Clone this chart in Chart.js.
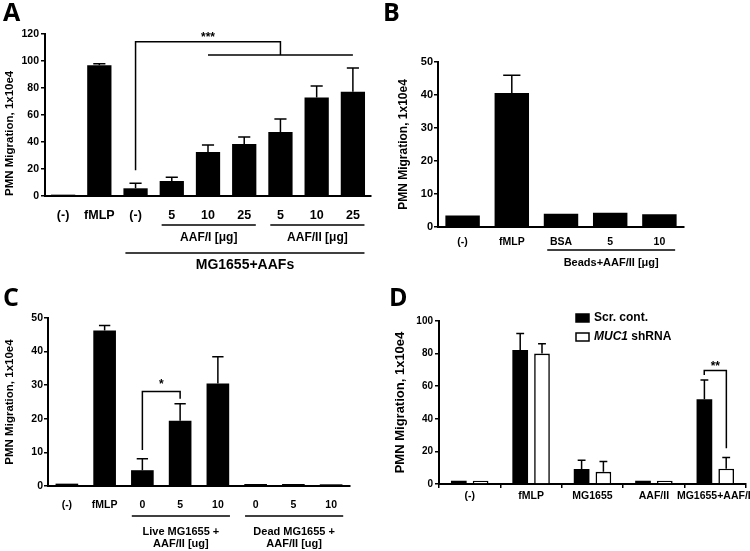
<!DOCTYPE html>
<html>
<head>
<meta charset="utf-8">
<script src="https://cdn.jsdelivr.net/npm/chart.js@4.4.1/dist/chart.umd.min.js"></script>
<style>
  body { margin: 0; background: #fff; width: 750px; height: 551px; overflow: hidden; position: relative; }
  canvas { position: absolute; }
  .letter { position: absolute; font: bold 25px "Open Sans", "Liberation Sans", sans-serif; line-height: 1; color: #000; }
</style>
</head>
<body>
<canvas id="chartA" width="380" height="275" style="left:0;top:0"></canvas>
<canvas id="chartB" width="370" height="275" style="left:380px;top:0"></canvas>
<canvas id="chartC" width="380" height="276" style="left:0;top:275px"></canvas>
<canvas id="chartD" width="370" height="276" style="left:380px;top:275px"></canvas>
<div class="letter" style="left:3px;top:-1px">A</div>
<div class="letter" style="left:383px;top:-1px">B</div>
<div class="letter" style="left:3px;top:284px">C</div>
<div class="letter" style="left:389px;top:284px">D</div>
<script>
const FONT = '"Liberation Sans", Arial, Helvetica, sans-serif';
const yTitle = "PMN Migration, 1x10e4";

// panel A
const aLabels = ["(-)", "fMLP", "(-)", "5", "10", "25", "5", "10", "25"];
const aMeans = [1.0, 96.8, 5.7, 11.1, 32.6, 38.5, 47.4, 73.0, 77.3];
const aSem = [0, 1.2, 3.7, 2.7, 5.2, 5.2, 9.6, 8.5, 17.5];
const aTicks = [0, 20, 40, 60, 80, 100, 120];
const aGroups = [["AAF/I [μg]", 3, 5, 0], ["AAF/II [μg]", 6, 8, 0], ["MG1655+AAFs", 2, 8, 1]];
const aBrackets = [[[2, 19], [2, 114.3], [6, 114.3], [6, 104.4]], [[4, 104.4], [8, 104.4]]];
const aStars = [["***", 4, 115.5]];

// panel B
const bLabels = ["(-)", "fMLP", "BSA", "5", "10"];
const bMeans = [3.5, 40.6, 4.0, 4.3, 3.9];
const bSem = [0, 5.4, 0, 0, 0];
const bTicks = [0, 10, 20, 30, 40, 50];
const bGroups = [["Beads+AAF/II [μg]", 2, 4, 0]];

// panel C
const cLabels = ["(-)", "fMLP", "0", "5", "10", "0", "5", "10"];
const cMeans = [0.7, 46.3, 4.7, 19.4, 30.5, 0.6, 0.6, 0.5];
const cSem = [0, 1.5, 3.4, 5.1, 8.0, 0, 0, 0];
const cTicks = [0, 10, 20, 30, 40, 50];
const cGroups = [["Live MG1655 +\nAAF/II [ug]", 2, 4, 0], ["Dead MG1655 +\nAAF/II [ug]", 5, 7, 0]];
const cBrackets = [[[2, 10.7], [2, 28.1], [3, 28.1], [3, 26]]];
const cStars = [["*", 2.5, 29.5]];

// panel D
const dLabels = ["(-)", "fMLP", "MG1655", "AAF/II", "MG1655+AAF/II"];
const dScr = [2.0, 82.2, 9.2, 2.0, 52.0];
const dScrSem = [0, 10.1, 5.3, 0, 11.8];
const dMuc = [2.0, 80.0, 7.5, 2.0, 9.4];
const dMucSem = [0, 6.0, 6.3, 0, 6.9];
const dTicks = [0, 20, 40, 60, 80, 100];
const dBrackets = [[[3.82, 66.8], [3.82, 69.6], [4.18, 69.6], [4.18, 22]]];
const dStars = [["**", 4, 71]];

makePanel("chartA", {
  labels: aLabels, yTicks: aTicks,
  series: [{ data: aMeans, sem: aSem, fill: "#000" }],
  groups: aGroups, brackets: aBrackets, stars: aStars,
  pad: { left: 0, top: 34, right: 9 }, yw: 45, xh: 79,
  barPct: 0.67, catPct: 1,
  titleSize: 11.5, titleAlign: "start", titlePad: 3,
  yTickSize: 10.5, yTickPad: 2, xTickSize: 12.5, xTickPad: 12, xTickLen: 0,
  groupLine: [29, 57], groupText: [42, 69], groupSize: [12, 14], groupLH: 12
});

makePanel("chartB", {
  labels: bLabels, yTicks: bTicks,
  series: [{ data: bMeans, sem: bSem, fill: "#000" }],
  groups: bGroups, brackets: [], stars: [],
  pad: { left: 12, top: 62, right: 66 }, yw: 46, xh: 48,
  barPct: 0.7, catPct: 1,
  titleSize: 12, titleAlign: "center", titlePad: 4,
  yTickSize: 11, yTickPad: 1, xTickSize: 10.5, xTickPad: 9, xTickLen: 0,
  groupLine: [23], groupText: [36], groupSize: [11], groupLH: 12
});

makePanel("chartC", {
  labels: cLabels, yTicks: cTicks,
  series: [{ data: cMeans, sem: cSem, fill: "#000" }],
  groups: cGroups, brackets: cBrackets, stars: cStars,
  pad: { left: 0, top: 43, right: 30 }, yw: 48, xh: 65,
  barPct: 0.6, catPct: 1,
  titleSize: 11.5, titleAlign: "center", titlePad: 3,
  yTickSize: 10.5, yTickPad: 1, xTickSize: 10.5, xTickPad: 13, xTickLen: 0,
  groupLine: [30], groupText: [46], groupSize: [11], groupLH: 11.5
});

makePanel("chartD", {
  labels: dLabels, yTicks: dTicks,
  series: [
    { data: dScr, sem: dScrSem, fill: "#000" },
    { data: dMuc, sem: dMucSem, fill: "#fff" }
  ],
  groups: [], brackets: dBrackets, stars: dStars,
  pad: { left: 9, top: 46, right: 4 }, yw: 50, xh: 67,
  barPct: 0.72, catPct: 0.71,
  titleSize: 13, titleAlign: "center", titlePad: 4,
  yTickSize: 10, yTickPad: 2, xTickSize: 10.5, xTickPad: 2, xTickLen: 4,
  legend: [
    { fill: "#000", y: 43, parts: [["Scr. cont.", false]] },
    { fill: "#fff", y: 62, parts: [["MUC1", true], [" shRNA", false]] }
  ],
  legendX: 196
});

function makePanel(id, p) {
  const datasets = p.series.map((s) => ({
    data: s.data,
    backgroundColor: s.fill,
    borderColor: "#000",
    borderWidth: s.fill === "#fff" ? 1.6 : 0,
    barPercentage: p.barPct,
    categoryPercentage: p.catPct
  }));

  new Chart(document.getElementById(id), {
    type: "bar",
    data: { labels: p.labels, datasets: datasets },
    options: {
      responsive: false,
      animation: false,
      events: [],
      layout: { padding: { left: p.pad.left, top: p.pad.top, right: p.pad.right, bottom: 0 } },
      plugins: { legend: { display: false }, tooltip: { enabled: false } },
      scales: {
        x: {
          border: { display: true, color: "#000", width: 2 },
          grid: { display: p.xTickLen > 0, drawOnChartArea: false, drawTicks: p.xTickLen > 0, tickLength: p.xTickLen, color: "#000", lineWidth: 1.5 },
          ticks: { color: "#000", padding: p.xTickPad, maxRotation: 0, autoSkip: false, font: { family: FONT, size: p.xTickSize, weight: "bold" } },
          afterFit(scale) { scale.height = p.xh; scale.paddingLeft = 0; scale.paddingRight = 0; }
        },
        y: {
          min: p.yTicks[0],
          max: p.yTicks[p.yTicks.length - 1],
          border: { display: true, color: "#000", width: 2 },
          grid: { display: true, drawOnChartArea: false, drawTicks: true, tickLength: 4, color: "#000", lineWidth: 1.5 },
          ticks: { color: "#000", padding: p.yTickPad, font: { family: FONT, size: p.yTickSize, weight: "bold" } },
          afterBuildTicks(scale) { scale.ticks = p.yTicks.map((v) => ({ value: v })); },
          title: {
            display: true, text: yTitle, color: "#000", align: p.titleAlign,
            padding: { top: p.titlePad, bottom: 0 },
            font: { family: FONT, size: p.titleSize, weight: "bold" }
          },
          afterFit(scale) { scale.width = p.yw; scale.paddingTop = 0; scale.paddingBottom = 0; }
        }
      }
    },
    plugins: [{ id: "extras", afterDraw(chart) { drawExtras(chart, p); } }]
  });
}

function drawExtras(chart, p) {
  const ctx = chart.ctx;
  const xs = chart.scales.x, ys = chart.scales.y;
  const area = chart.chartArea;
  const step = xs.getPixelForValue(1) - xs.getPixelForValue(0);
  ctx.save();
  ctx.strokeStyle = "#000";
  ctx.fillStyle = "#000";
  ctx.lineWidth = 1.5;

  // upper error bars (mean + SEM)
  p.series.forEach((s, i) => {
    chart.getDatasetMeta(i).data.forEach((bar, j) => {
      if (!s.sem[j]) return;
      const top = ys.getPixelForValue(s.data[j] + s.sem[j]);
      const half = bar.width / 4;
      ctx.beginPath();
      ctx.moveTo(bar.x, bar.y);
      ctx.lineTo(bar.x, top);
      ctx.moveTo(bar.x - half, top);
      ctx.lineTo(bar.x + half, top);
      ctx.stroke();
    });
  });

  // significance brackets
  p.brackets.forEach((pts) => {
    ctx.beginPath();
    pts.forEach((pt, k) => {
      const px = xs.getPixelForValue(pt[0]), py = ys.getPixelForValue(pt[1]);
      if (k === 0) ctx.moveTo(px, py); else ctx.lineTo(px, py);
    });
    ctx.stroke();
  });
  ctx.textAlign = "center";
  ctx.textBaseline = "bottom";
  ctx.font = "bold 12px " + FONT;
  p.stars.forEach((st) => {
    ctx.fillText(st[0], xs.getPixelForValue(st[1]), ys.getPixelForValue(st[2]) + 4);
  });

  // group lines and labels under the x axis
  ctx.textBaseline = "middle";
  p.groups.forEach((g) => {
    const row = g[3];
    const xl = xs.getPixelForValue(g[1]) - 0.28 * step;
    const xr = xs.getPixelForValue(g[2]) + 0.32 * step;
    const ly = area.bottom + p.groupLine[row];
    ctx.beginPath();
    ctx.moveTo(xl, ly);
    ctx.lineTo(xr, ly);
    ctx.stroke();
    ctx.font = "bold " + p.groupSize[row] + "px " + FONT;
    g[0].split("\n").forEach((line, k) => {
      ctx.fillText(line, (xl + xr) / 2, area.bottom + p.groupText[row] + k * p.groupLH);
    });
  });

  // legend (panel D)
  if (p.legend) {
    ctx.textAlign = "left";
    p.legend.forEach((item) => {
      const lx = p.legendX, ly = item.y;
      ctx.fillStyle = item.fill;
      ctx.fillRect(lx, ly - 4, 13, 8);
      ctx.strokeRect(lx, ly - 4, 13, 8);
      ctx.fillStyle = "#000";
      let tx = lx + 18;
      item.parts.forEach((part) => {
        ctx.font = (part[1] ? "italic " : "") + "bold 12px " + FONT;
        ctx.fillText(part[0], tx, ly);
        tx += ctx.measureText(part[0]).width;
      });
    });
  }
  ctx.restore();
}
</script>
</body>
</html>
